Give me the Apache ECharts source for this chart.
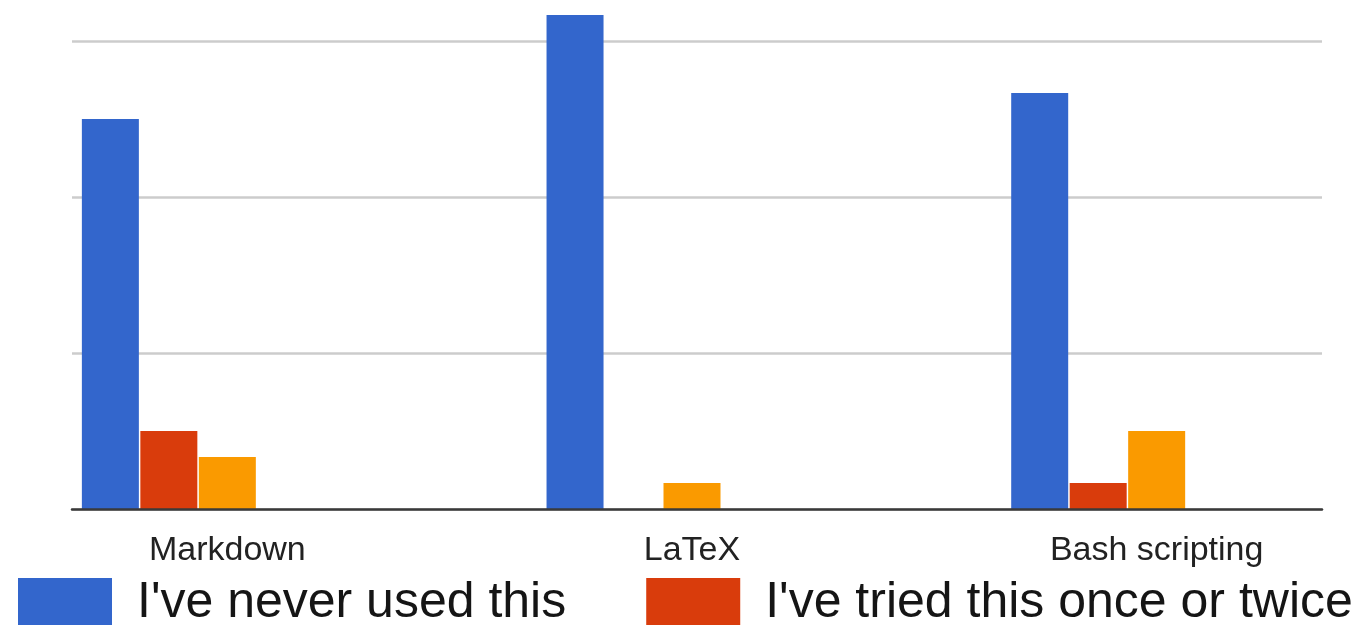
<!DOCTYPE html>
<html>
<head>
<meta charset="utf-8">
<script src="https://cdn.jsdelivr.net/npm/echarts@6/dist/echarts.min.js"></script>
<style>
  html, body { margin: 0; padding: 0; background: #ffffff; }
  #chart { width: 1356px; height: 625px; }
</style>
</head>
<body>
<div id="chart"></div>
<script>
// Survey answers: how many respondents chose each option per tool
const categories = ['Markdown', 'LaTeX', 'Bash scripting'];
const seriesNames = ["I've never used this", "I've tried this once or twice", 'Option 3', 'Option 4', 'Option 5'];
const neverUsed = [15, 19, 16];
const triedOnce = [3, 0, 1];
const option3 = [2, 1, 3];
const option4 = [0, 0, 0];
const option5 = [0, 0, 0];
const yTicks = [0, 6, 12, 18];

const colors = ['#3366cc', '#d93c0c', '#fa9a00', '#109618', '#990099'];
const values = [neverUsed, triedOnce, option3, option4, option5];

const yMax = 24;
const yInterval = yTicks[1] - yTicks[0];

const chart = echarts.init(document.getElementById('chart'), null, { renderer: 'canvas' });

const series = values.map((vals, i) => ({
  name: seriesNames[i],
  type: 'bar',
  xAxisIndex: 1,
  yAxisIndex: 1,
  data: vals,
  barWidth: 57,
  barGap: '2.6%',
  itemStyle: { color: colors[i] },
  emphasis: { disabled: true },
  z: 2
}));

chart.setOption({
  animation: false,
  backgroundColor: '#ffffff',
  color: colors,
  textStyle: { fontFamily: 'Liberation Sans, Arial, sans-serif' },
  grid: [
    // plot frame: gridlines and baseline
    { left: 72, width: 1250, top: -115, height: 624, containLabel: false, outerBoundsMode: 'none' },
    // category bands carrying the bar groups
    { left: -5, width: 1394, top: -115, height: 624, containLabel: false, outerBoundsMode: 'none' }
  ],
  xAxis: [
    {
      gridIndex: 0,
      type: 'category',
      data: categories,
      z: 5,
      axisLine: { show: true, lineStyle: { color: '#3a3a3a', width: 2.5 } },
      axisTick: { show: false },
      axisLabel: { show: false },
      splitLine: { show: false }
    },
    {
      gridIndex: 1,
      type: 'category',
      data: categories,
      axisLine: { show: false },
      axisTick: { show: false },
      axisLabel: {
        show: true,
        margin: 25,
        fontSize: 34,
        color: '#222222',
        fontFamily: 'Liberation Sans, Arial, sans-serif'
      },
      splitLine: { show: false }
    }
  ],
  yAxis: [
    {
      gridIndex: 0,
      type: 'value',
      min: 0,
      max: yMax,
      interval: yInterval,
      axisLine: { show: false },
      axisTick: { show: false },
      axisLabel: { show: false },
      splitLine: { show: true, lineStyle: { color: '#cccccc', width: 2.5 } }
    },
    {
      gridIndex: 1,
      type: 'value',
      min: 0,
      max: yMax,
      interval: yInterval,
      show: false,
      splitLine: { show: false }
    }
  ],
  legend: {
    data: seriesNames.slice(0, 2),
    left: 18,
    top: 578,
    padding: 0,
    orient: 'horizontal',
    itemWidth: 94,
    itemHeight: 50,
    itemGap: 80,
    icon: 'rect',
    selectedMode: false,
    textStyle: {
      fontSize: 50,
      color: '#151515',
      fontFamily: 'Liberation Sans, Arial, sans-serif',
      padding: [5, 0, 0, 20]
    }
  },
  series: series
});
</script>
</body>
</html>
